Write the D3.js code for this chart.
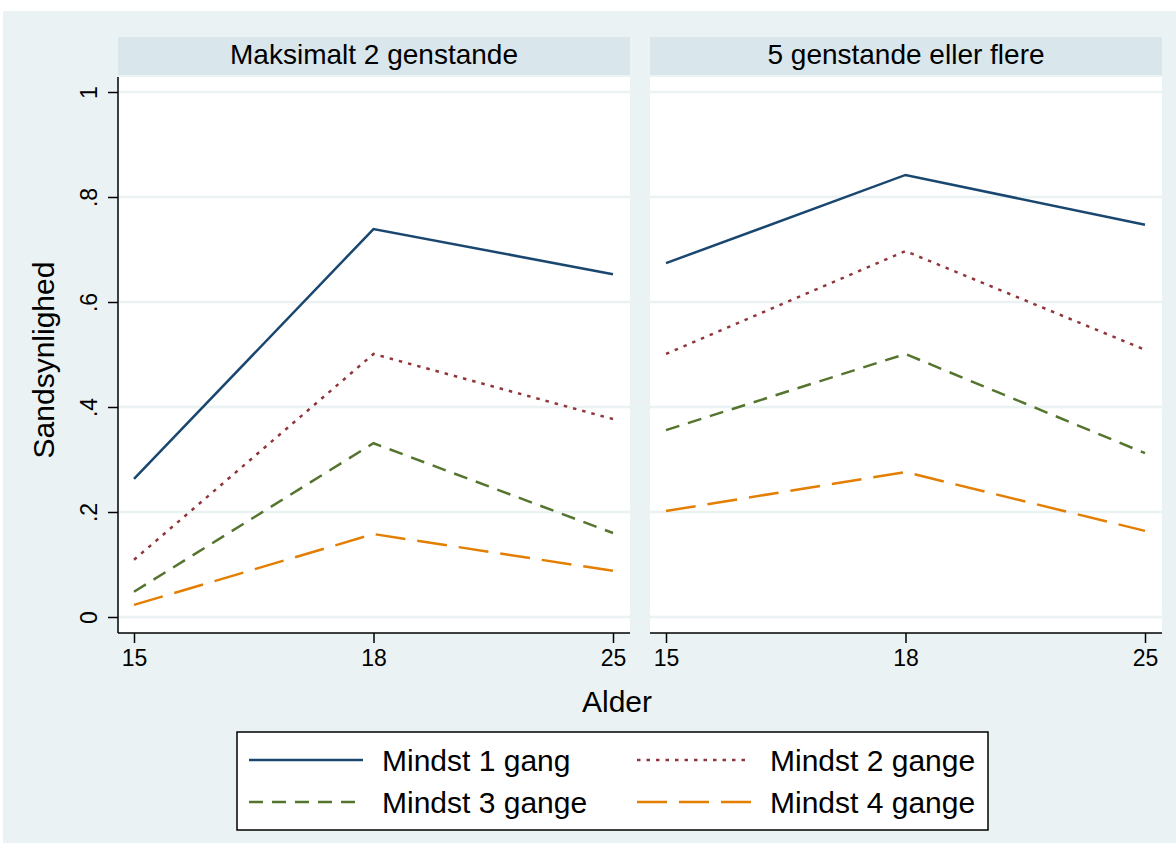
<!DOCTYPE html>
<html>
<head>
<meta charset="utf-8">
<script src="https://cdn.jsdelivr.net/npm/d3@7"></script>
<style>
  body { margin: 0; background: #fff; }
  svg { display: block; font-family: Arial, "Liberation Sans", sans-serif; }
</style>
</head>
<body>
<script>
"use strict"

const ages = ['15', '18', '25']
const panels = ['Maksimalt 2 genstande', '5 genstande eller flere']
const seriesNames = ['Mindst 1 gang', 'Mindst 2 gange', 'Mindst 3 gange', 'Mindst 4 gange']
const yTicks = [0, 0.2, 0.4, 0.6, 0.8, 1]

// values per panel, one array per series (ages 15, 18, 25)
const maks2 = [
   [0.263, 0.739, 0.653],
   [0.109, 0.501, 0.377],
   [0.048, 0.331, 0.160],
   [0.023, 0.158, 0.088]
]
const fem_plus = [
   [0.674, 0.842, 0.747],
   [0.501, 0.697, 0.509],
   [0.356, 0.501, 0.312],
   [0.202, 0.276, 0.164]
]
const panelData = [maks2, fem_plus]

const colors = ['#1a476f', '#90353b', '#55752f', '#e37e00']
const dashes = ['none', '3.5,6', '14,9', '30,12']

const W = 1176, H = 843
const bg = '#eaf2f3'
const strip = '#d9e6eb'
const font = 'Arial, "Liberation Sans", sans-serif'

const svg = d3.select('body')
   .append('svg')
      .attr('width', W)
      .attr('height', H)

svg.append('rect')
   .attr('x', 3).attr('y', 11)
   .attr('width', W - 3).attr('height', H - 11)
   .attr('fill', bg)

const plotTop = 77, plotBot = 633
const panelX = [[118, 630], [650, 1162]]

const y = d3.scaleLinear([0, 1], [617, 92])

const line = d3.line()

panelX.forEach(([x0, x1], p) => {
   const x = d3.scalePoint(ages, [x0 + 16, x1 - 17])

   // header strip
   svg.append('rect')
      .attr('x', x0).attr('y', 37)
      .attr('width', x1 - x0).attr('height', 38)
      .attr('fill', strip)
   svg.append('text')
      .attr('x', (x0 + x1) / 2).attr('y', 64)
      .attr('text-anchor', 'middle')
      .style('font-size', '28px')
      .text(panels[p])

   // plot area
   svg.append('rect')
      .attr('x', x0).attr('y', plotTop)
      .attr('width', x1 - x0).attr('height', plotBot - plotTop)
      .attr('fill', '#fff')

   svg.append('g')
      .selectAll('line')
      .data(yTicks)
      .join('line')
         .attr('x1', x0).attr('x2', x1)
         .attr('y1', d => y(d)).attr('y2', d => y(d))
         .attr('stroke', bg)
         .attr('stroke-width', 2.5)

   // series
   panelData[p].forEach((vals, i) => {
      svg.append('path')
         .datum(vals)
         .attr('d', line.x((d, j) => x(ages[j])).y(d => y(d)))
         .attr('fill', 'none')
         .attr('stroke', colors[i])
         .attr('stroke-width', 2.5)
         .attr('stroke-dasharray', dashes[i])
   })

   // x axis
   const xAxis = d3.axisBottom(x).tickSize(10).tickSizeOuter(0)
   const gx = svg.append('g')
      .attr('transform', `translate(0, ${plotBot})`)
      .call(xAxis)
   gx.select('.domain').remove()
   gx.selectAll('line').attr('stroke', '#000').attr('stroke-width', 1.5)
   gx.selectAll('text')
      .attr('y', 17)
      .attr('dy', '0.71em')
      .style('font-size', '23px')
      .style('font-family', font)
      .attr('fill', '#000')
   svg.append('line')
      .attr('x1', x0).attr('x2', x1)
      .attr('y1', plotBot).attr('y2', plotBot)
      .attr('stroke', '#000').attr('stroke-width', 1.5)
})

// y axis on first panel only
const yAxis = d3.axisLeft(y)
   .tickValues(yTicks)
   .tickSize(10)
   .tickSizeOuter(0)
   .tickFormat(d => d === 0 ? '0' : d === 1 ? '1' : d3.format('.1f')(d).replace('0.', '.'))
const gy = svg.append('g')
   .attr('transform', `translate(${panelX[0][0]}, 0)`)
   .call(yAxis)
gy.select('.domain').remove()
gy.selectAll('line').attr('stroke', '#000').attr('stroke-width', 1.5)
gy.selectAll('text')
   .attr('x', null).attr('dy', null)
   .attr('transform', 'translate(-21, 0) rotate(-90)')
   .attr('text-anchor', 'middle')
   .style('font-size', '23px')
   .style('font-family', font)
   .attr('fill', '#000')
svg.append('line')
   .attr('x1', panelX[0][0]).attr('x2', panelX[0][0])
   .attr('y1', plotTop).attr('y2', plotBot)
   .attr('stroke', '#000').attr('stroke-width', 1.5)

// axis titles
svg.append('text')
   .attr('transform', 'translate(54, 360) rotate(-90)')
   .attr('text-anchor', 'middle')
   .style('font-size', '30px')
   .text('Sandsynlighed')
svg.append('text')
   .attr('x', 617).attr('y', 712)
   .attr('text-anchor', 'middle')
   .style('font-size', '30px')
   .text('Alder')

// legend
const legend = svg.append('g')
legend.append('rect')
   .attr('x', 237).attr('y', 732)
   .attr('width', 751).attr('height', 98)
   .attr('fill', '#fff')
   .attr('stroke', '#000')
   .attr('stroke-width', 1.5)

const legCols = [249, 637]
const legRows = [760, 802]
seriesNames.forEach((name, i) => {
   const lx = legCols[i % 2], ly = legRows[Math.floor(i / 2)]
   legend.append('line')
      .attr('x1', lx).attr('x2', lx + 114)
      .attr('y1', ly).attr('y2', ly)
      .attr('stroke', colors[i])
      .attr('stroke-width', 2.5)
      .attr('stroke-dasharray', dashes[i])
   legend.append('text')
      .attr('x', lx + 133).attr('y', ly + 11)
      .style('font-size', '30px')
      .text(name)
})
</script>
</body>
</html>
